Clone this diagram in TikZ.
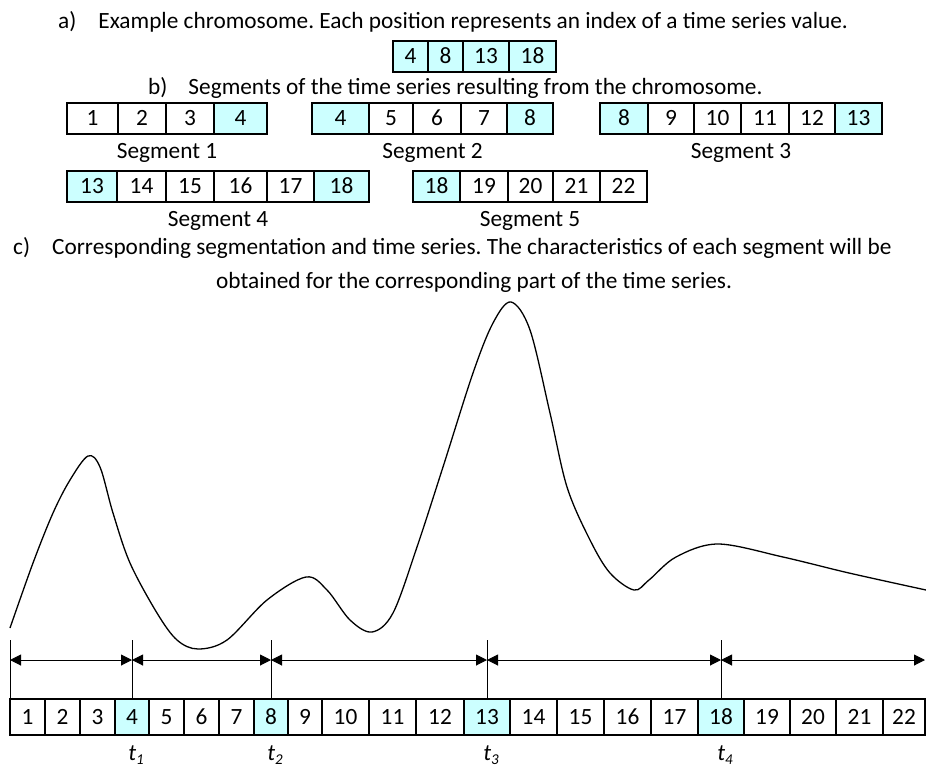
\documentclass[tikz,border=0pt]{standalone}
\usepackage{fontspec}
\setmainfont{Carlito}
\usetikzlibrary{arrows.meta,positioning,calc}
\definecolor{hitcyan}{RGB}{204,255,255}
\newcommand{\figfont}{\fontsize{23.3}{28}\selectfont\frenchspacing}
\newcommand{\subfont}{\fontsize{15}{17}\selectfont}

\begin{document}
\begin{tikzpicture}[x=1pt, y=-1pt,
  every node/.style={font=\figfont},
  cell/.style={draw, line width=1.2pt, inner sep=0pt, outer sep=0pt, anchor=north west, minimum height=31pt, text height=14.7pt, text depth=0pt},
  caption/.style={anchor=base west, inner sep=0pt},
  seglabel/.style={anchor=base, inner sep=0pt, yshift=-24pt},
  tlabel/.style={anchor=base, inner sep=0pt, xshift=4pt, font=\figfont\itshape},
  span/.style={{Triangle[length=11pt,width=11pt]}-{Triangle[length=11pt,width=11pt]}, line width=1pt},
  cut/.style={line width=1pt},
  series/.style={line width=1.3pt, line join=round}
]
\useasboundingbox (0,0) rectangle (926,769);

% a) chromosome
\node[caption] (capa) at (58,28) {a)\hspace{22pt}Example chromosome. Each position represents an index of a time series value.};
\foreach \a/\b/\v [count=\i] in {393/428/4, 428/463/8, 463/509/13, 509/556/18}
  \node[cell, fill=hitcyan, minimum width={(\b-\a)*1pt}] (k\i) at (\a,41) {\v};

% b) segments
\node[caption] (capb) at (148,94) {b)\hspace{21pt}Segments of the time series resulting from the chromosome.};
\foreach \a/\b/\v/\f [count=\i] in {67/118/1/white, 118/166/2/white, 166/214/3/white, 214/267/4/hitcyan}
  \node[cell, fill=\f, minimum width={(\b-\a)*1pt}] (s1c\i) at (\a,103) {\v};
\foreach \a/\b/\v/\f [count=\i] in {312/369/4/hitcyan, 369/413/5/white, 413/461/6/white, 461/507/7/white, 507/553/8/hitcyan}
  \node[cell, fill=\f, minimum width={(\b-\a)*1pt}] (s2c\i) at (\a,103) {\v};
\foreach \a/\b/\v/\f [count=\i] in {600/648/8/hitcyan, 648/694/9/white, 694/741/10/white, 741/789/11/white, 789/835/12/white, 835/882/13/hitcyan}
  \node[cell, fill=\f, minimum width={(\b-\a)*1pt}] (s3c\i) at (\a,103) {\v};
\foreach \a/\b/\v/\f [count=\i] in {67/117/13/hitcyan, 117/166/14/white, 166/214/15/white, 214/267/16/white, 267/314/17/white, 314/369/18/hitcyan}
  \node[cell, fill=\f, minimum width={(\b-\a)*1pt}] (s4c\i) at (\a,171) {\v};
\foreach \a/\b/\v/\f [count=\i] in {413/460/18/hitcyan, 460/508/19/white, 508/553/20/white, 553/600/21/white, 600/647/22/white}
  \node[cell, fill=\f, minimum width={(\b-\a)*1pt}] (s5c\i) at (\a,171) {\v};

\node[seglabel] (seg1) at ($(s1c1.south west)!0.5!(s1c4.south east)$) {Segment 1};
\node[seglabel] (seg2) at ($(s2c1.south west)!0.5!(s2c5.south east)$) {Segment 2};
\node[seglabel] (seg3) at ($(s3c1.south west)!0.5!(s3c6.south east)$) {Segment 3};
\node[seglabel] (seg4) at ($(s4c1.south west)!0.5!(s4c6.south east)$) {Segment 4};
\node[seglabel] (seg5) at ($(s5c1.south west)!0.5!(s5c5.south east)$) {Segment 5};

% c) segmentation and series
\node[caption] (capc) at (13,254) {c)\hspace{22pt}Corresponding segmentation and time series. The characteristics of each segment will be};
\node[caption] (capd) at (216,288) {obtained for the corresponding part of the time series.};

\draw[series] plot[smooth, tension=0.55] coordinates {
  (10,628) (33,563) (53,513) (70,480) (88,456) (100,467) (113,513) (130,563)
  (157,613) (177,640) (198,649) (227,640) (267,600) (306,577) (327,590)
  (350,620) (372,632) (393,613) (417,547) (443,467) (473,373) (493,323)
  (511,302) (530,330) (550,413) (567,487) (590,540) (610,573) (634,590)
  (649,580) (676,557) (718,544) (783,557) (849,573) (926,590)};

% index row
\foreach \a/\b/\v/\f in {10/45/1/white, 45/80/2/white, 80/115/3/white, 115/149/4/hitcyan,
    149/184/5/white, 184/219/6/white, 219/254/7/white, 254/288/8/hitcyan, 288/322/9/white,
    322/369/10/white, 369/416/11/white, 416/464/12/white, 464/510/13/hitcyan, 510/557/14/white,
    557/604/15/white, 604/651/16/white, 651/698/17/white, 698/744/18/hitcyan, 744/790/19/white,
    790/836/20/white, 836/883/21/white, 883/925/22/white}
  \node[cell, minimum height=36pt, fill=\f, minimum width={(\b-\a)*1pt}] (b\v) at (\a,699) {\v};

\coordinate (ty) at (0,640);
\coordinate (ay) at (0,660);
\coordinate (ly) at (0,760);
\draw[cut] (b1.north west |- ty) -- (b1.north west);
\foreach \c in {4,8,13,18}
  \draw[cut] (b\c.north |- ty) -- (b\c.north);

\draw[span] (b1.north west |- ay) -- (b4.north |- ay);
\draw[span] (b4.north |- ay) -- (b8.north |- ay);
\draw[span] (b8.north |- ay) -- (b13.north |- ay);
\draw[span] (b13.north |- ay) -- (b18.north |- ay);
\draw[span] (b18.north |- ay) -- (b22.north east |- ay);

\node[tlabel] (t1) at (b4.south |- ly) {t\raisebox{-0.2em}{\subfont 1}};
\node[tlabel] (t2) at (b8.south |- ly) {t\raisebox{-0.2em}{\subfont 2}};
\node[tlabel] (t3) at (b13.south |- ly) {t\raisebox{-0.2em}{\subfont 3}};
\node[tlabel] (t4) at (b18.south |- ly) {t\raisebox{-0.2em}{\subfont 4}};
\end{tikzpicture}
\end{document}
